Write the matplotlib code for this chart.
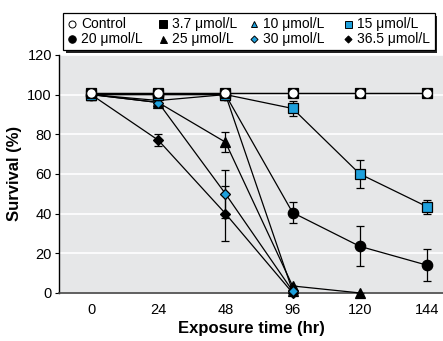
import numpy as np
import matplotlib.pyplot as plt
from matplotlib.lines import Line2D
from matplotlib.patches import Rectangle

plt.rcParams['font.family'] = ['Liberation Sans', 'DejaVu Sans']

# exposure times (hr), shown as evenly spaced categories
times = [0, 24, 48, 96, 120, 144]

control = [101, 101, 101, 101, 101, 101]
c3_7 = [101, 101, 101, 101, 101, 101]
c10 = [100, 97, 100, 1]
c15 = [100, 100, 100, 93, 60, 43.5]
c15_err = [0, 0, 0, 4, 7, 3.5]
c20 = [100, 100, 100, 40.5, 23.5, 14]
c20_err = [0, 0, 0, 5.5, 10, 8]
c25 = [100, 96, 76, 3.5, 0]
c25_err = [0, 0, 5, 0, 0]
c30 = [100, 96, 50, 1]
c30_err = [0, 0, 12, 0]
c36_5 = [100, 77, 40, 0]
c36_5_err = [0, 3, 14, 0]

blue = '#1ea0dc'
x = np.arange(len(times))
W, H = 443, 341

fig = plt.figure(figsize=(W / 100, H / 100), dpi=100)
ax = fig.add_axes([0.133, 0.141, 0.867, 0.698])
ax.set_facecolor('#e6e7e8')

line_kw = dict(color='black', lw=0.9, clip_on=False)
err_kw = dict(ecolor='black', elinewidth=0.9, capsize=3, capthick=0.9)

# (values, errors, marker, face, size, label) -- drawn bottom to top
series = [
    (c25, c25_err, '^', 'black', 7, '25 μmol/L'),
    (c10, None, '^', blue, 6.5, '10 μmol/L'),
    (c36_5, c36_5_err, 'D', 'black', 5, '36.5 μmol/L'),
    (c30, c30_err, 'D', blue, 5, '30 μmol/L'),
    (c20, c20_err, 'o', 'black', 7.5, '20 μmol/L'),
    (c15, c15_err, 's', blue, 7, '15 μmol/L'),
    (c3_7, None, 's', 'black', 7.5, '3.7 μmol/L'),
    (control, None, 'o', 'white', 7, 'Control'),
]

for i, (vals, errs, mk, fc, ms, lab) in enumerate(series):
    xs = x[:len(vals)]
    if errs is not None:
        ax.errorbar(xs, vals, yerr=errs, fmt='none', zorder=2 + i, clip_on=False, **err_kw)
    ax.plot(xs, vals, marker=mk, markerfacecolor=fc, markeredgecolor='black',
            markeredgewidth=0.9, markersize=ms, zorder=3 + i, **line_kw)

ax.set_xlim(-0.48, 5.24)
ax.set_ylim(0, 120)
ax.set_xticks(x)
ax.set_xticklabels([str(t) for t in times])
ax.set_yticks(range(0, 121, 20))
ax.yaxis.grid(True, color='white', lw=1.2)
ax.set_axisbelow(True)
ax.tick_params(axis='x', length=0, pad=7, labelsize=10.5)
ax.tick_params(axis='y', length=3, width=0.8, pad=2, labelsize=10.5)
for s in ['top', 'right']:
    ax.spines[s].set_visible(False)
ax.spines['left'].set_linewidth(1.0)
ax.spines['bottom'].set_linewidth(1.2)
ax.spines['bottom'].set_color('#444444')

ax.set_xlabel('Exposure time (hr)', fontsize=12, fontweight='bold', labelpad=3)
ax.set_ylabel('Survival (%)', fontsize=12, fontweight='bold', labelpad=4)

# legend box with drop shadow, laid out in figure pixels
def fx(px):
    return px / W

def fy(py):
    return 1 - py / H

fig.add_artist(Rectangle((fx(66), fy(53)), fx(437) - fx(66), fy(16) - fy(53),
                         transform=fig.transFigure, facecolor='#222222',
                         edgecolor='none', zorder=5))
fig.add_artist(Rectangle((fx(63), fy(50)), fx(435) - fx(63), fy(13) - fy(50),
                         transform=fig.transFigure, facecolor='white',
                         edgecolor='black', lw=0.9, zorder=6))

order = [['Control', '3.7 μmol/L', '10 μmol/L', '15 μmol/L'],
         ['20 μmol/L', '25 μmol/L', '30 μmol/L', '36.5 μmol/L']]
col_marker = [72, 163, 254, 348]
col_text = [81, 172, 263, 357]
row_y = [24, 39]
lookup = {s[5]: s for s in series}
for r, row in enumerate(order):
    for c, lab in enumerate(row):
        _, _, mk, fc, ms, _ = lookup[lab]
        fig.add_artist(Line2D([fx(col_marker[c])], [fy(row_y[r])], ls='none',
                              marker=mk, markerfacecolor=fc, markeredgecolor='black',
                              markeredgewidth=0.7, markersize=ms * 0.72,
                              transform=fig.transFigure, zorder=7))
        fig.text(fx(col_text[c]), fy(row_y[r]), lab, fontsize=10,
                 ha='left', va='center', zorder=7)

fig.savefig('out.png', dpi=100)
